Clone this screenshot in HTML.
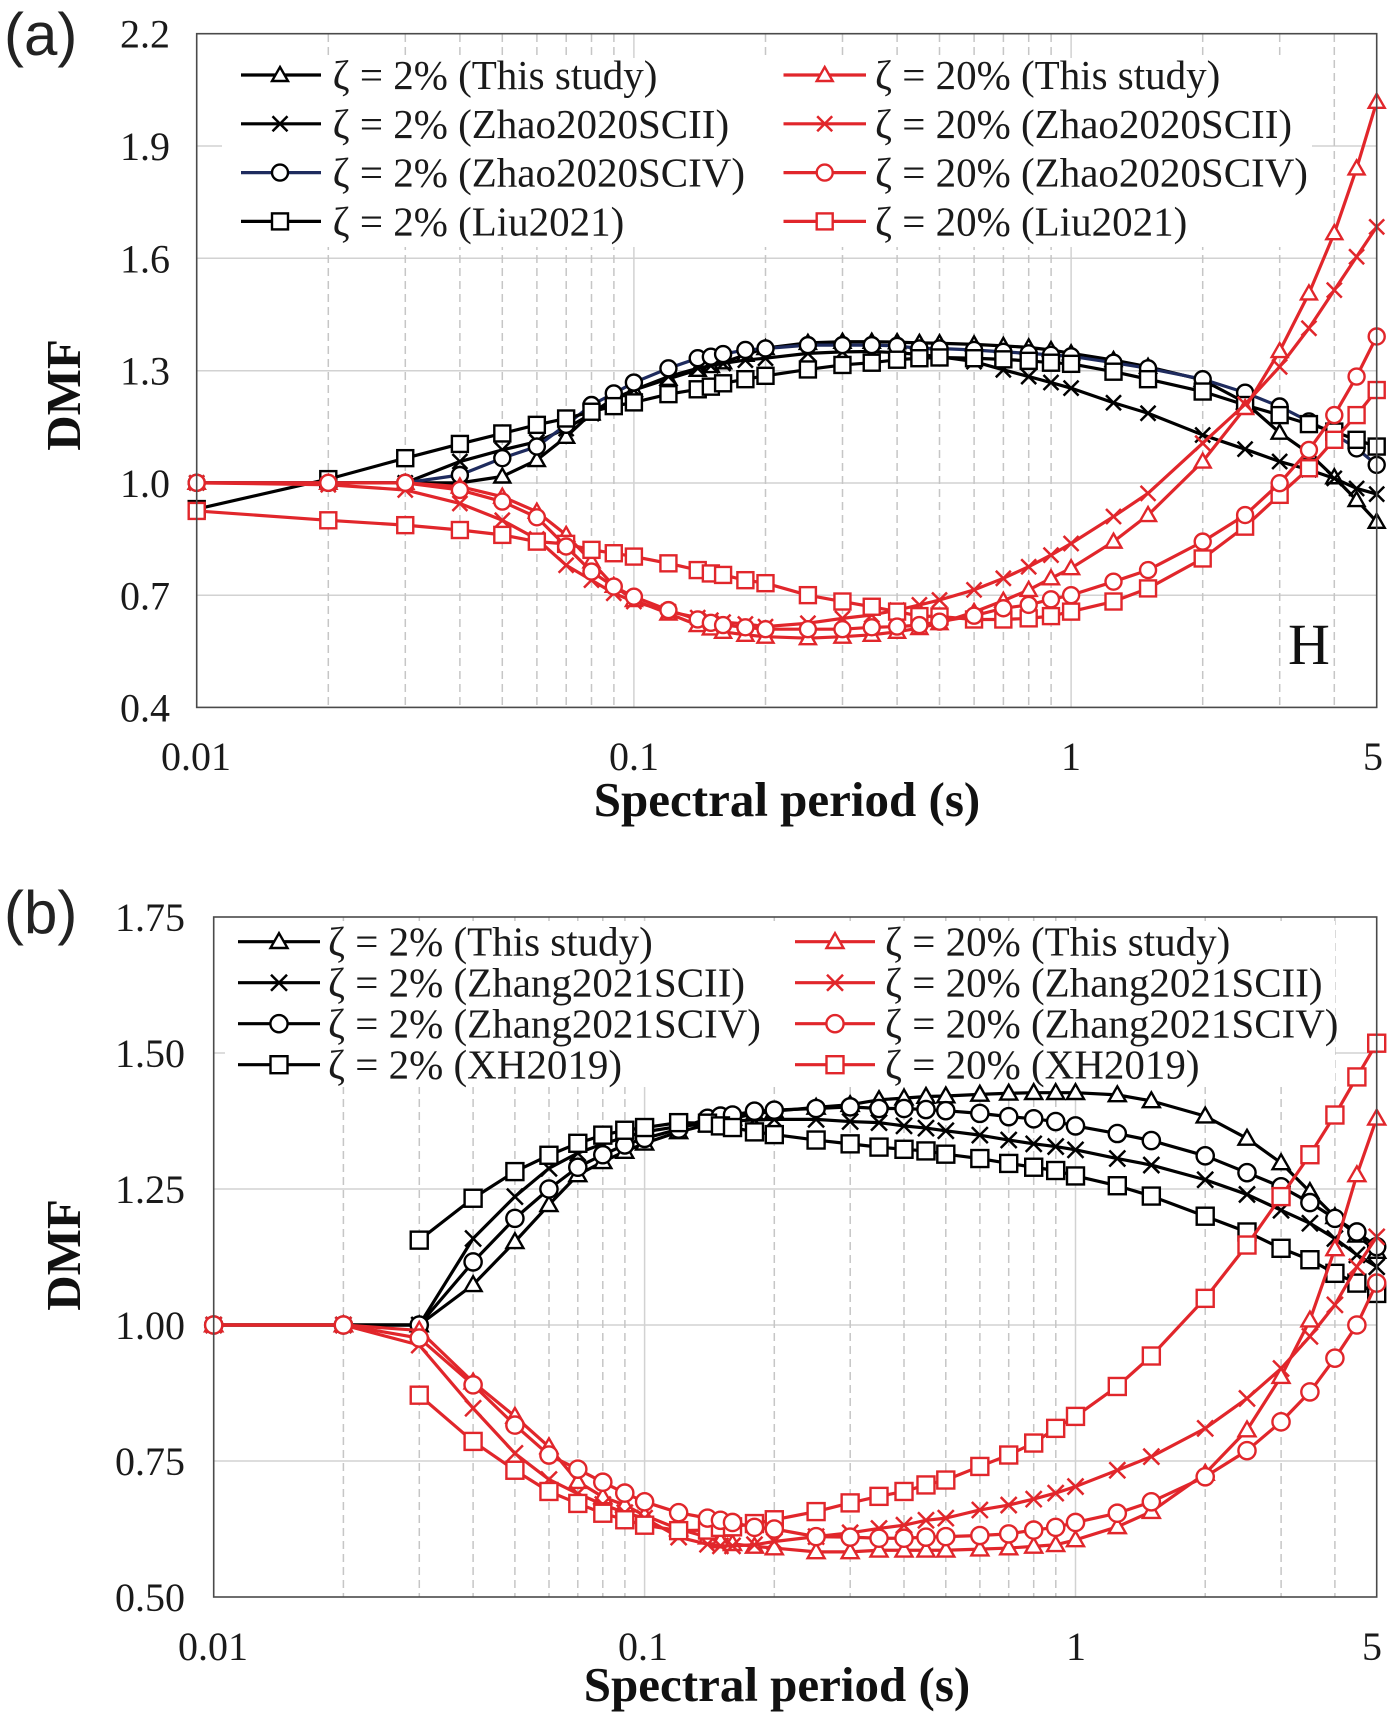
<!DOCTYPE html>
<html><head><meta charset="utf-8">
<style>
html,body{margin:0;padding:0;background:#fff;}
svg{display:block;}
.ser polyline{fill:none;stroke-width:3.2;vector-effect:non-scaling-stroke;stroke-linejoin:round;}
.tk{font-family:"Liberation Serif",serif;font-size:40px;fill:#1a1a1a;}
.lg{font-family:"Liberation Serif","DejaVu Serif",serif;font-size:41px;fill:#1a1a1a;}
.ttl{font-family:"Liberation Serif",serif;font-size:49px;font-weight:bold;fill:#111;}
.pl{font-family:"Liberation Sans",sans-serif;font-size:60px;fill:#222;}
.gh{stroke:#d2d2d2;stroke-width:1.5;}
.gv{stroke:#c6c6c6;stroke-width:1.5;stroke-dasharray:8 5;}
.gs{stroke:#d2d2d2;stroke-width:1.5;}
</style></head>
<body>
<svg width="1392" height="1718" viewBox="0 0 1392 1718" xmlns="http://www.w3.org/2000/svg">
<defs>
<marker id="aT" markerUnits="userSpaceOnUse" markerWidth="0.04575" markerHeight="0.05343" viewBox="-10 -10 20 20" refX="0" refY="0" preserveAspectRatio="none" overflow="visible"><polygon points="0,-8 8,6 -8,6" fill="#fff" stroke="#000" stroke-width="2.4"/></marker>
<marker id="aX" markerUnits="userSpaceOnUse" markerWidth="0.04575" markerHeight="0.05343" viewBox="-10 -10 20 20" refX="0" refY="0" preserveAspectRatio="none" overflow="visible"><path d="M-7.5,-7.5L7.5,7.5M-7.5,7.5L7.5,-7.5" fill="none" stroke="#000" stroke-width="2.5"/></marker>
<marker id="aC" markerUnits="userSpaceOnUse" markerWidth="0.04575" markerHeight="0.05343" viewBox="-10 -10 20 20" refX="0" refY="0" preserveAspectRatio="none" overflow="visible"><circle r="8" fill="#fff" stroke="#000" stroke-width="2.4"/></marker>
<marker id="aS" markerUnits="userSpaceOnUse" markerWidth="0.04575" markerHeight="0.05343" viewBox="-10 -10 20 20" refX="0" refY="0" preserveAspectRatio="none" overflow="visible"><rect x="-8" y="-8" width="16" height="16" fill="#fff" stroke="#000" stroke-width="2.4"/></marker>
<marker id="aTr" markerUnits="userSpaceOnUse" markerWidth="0.04575" markerHeight="0.05343" viewBox="-10 -10 20 20" refX="0" refY="0" preserveAspectRatio="none" overflow="visible"><polygon points="0,-8 8,6 -8,6" fill="#fff" stroke="#e1262b" stroke-width="2.4"/></marker>
<marker id="aXr" markerUnits="userSpaceOnUse" markerWidth="0.04575" markerHeight="0.05343" viewBox="-10 -10 20 20" refX="0" refY="0" preserveAspectRatio="none" overflow="visible"><path d="M-7.5,-7.5L7.5,7.5M-7.5,7.5L7.5,-7.5" fill="none" stroke="#e1262b" stroke-width="2.5"/></marker>
<marker id="aCr" markerUnits="userSpaceOnUse" markerWidth="0.04575" markerHeight="0.05343" viewBox="-10 -10 20 20" refX="0" refY="0" preserveAspectRatio="none" overflow="visible"><circle r="8" fill="#fff" stroke="#e1262b" stroke-width="2.4"/></marker>
<marker id="aSr" markerUnits="userSpaceOnUse" markerWidth="0.04575" markerHeight="0.05343" viewBox="-10 -10 20 20" refX="0" refY="0" preserveAspectRatio="none" overflow="visible"><rect x="-8" y="-8" width="16" height="16" fill="#fff" stroke="#e1262b" stroke-width="2.4"/></marker>
<marker id="bT" markerUnits="userSpaceOnUse" markerWidth="0.046414" markerHeight="0.036765" viewBox="-10 -10 20 20" refX="0" refY="0" preserveAspectRatio="none" overflow="visible"><polygon points="0,-8.5 8.5,6.3 -8.5,6.3" fill="#fff" stroke="#000" stroke-width="2.4"/></marker>
<marker id="bX" markerUnits="userSpaceOnUse" markerWidth="0.046414" markerHeight="0.036765" viewBox="-10 -10 20 20" refX="0" refY="0" preserveAspectRatio="none" overflow="visible"><path d="M-8,-8L8,8M-8,8L8,-8" fill="none" stroke="#000" stroke-width="2.5"/></marker>
<marker id="bC" markerUnits="userSpaceOnUse" markerWidth="0.046414" markerHeight="0.036765" viewBox="-10 -10 20 20" refX="0" refY="0" preserveAspectRatio="none" overflow="visible"><circle r="8.6" fill="#fff" stroke="#000" stroke-width="2.4"/></marker>
<marker id="bS" markerUnits="userSpaceOnUse" markerWidth="0.046414" markerHeight="0.036765" viewBox="-10 -10 20 20" refX="0" refY="0" preserveAspectRatio="none" overflow="visible"><rect x="-8.5" y="-8.5" width="17" height="17" fill="#fff" stroke="#000" stroke-width="2.4"/></marker>
<marker id="bTr" markerUnits="userSpaceOnUse" markerWidth="0.046414" markerHeight="0.036765" viewBox="-10 -10 20 20" refX="0" refY="0" preserveAspectRatio="none" overflow="visible"><polygon points="0,-8.5 8.5,6.3 -8.5,6.3" fill="#fff" stroke="#e1262b" stroke-width="2.4"/></marker>
<marker id="bXr" markerUnits="userSpaceOnUse" markerWidth="0.046414" markerHeight="0.036765" viewBox="-10 -10 20 20" refX="0" refY="0" preserveAspectRatio="none" overflow="visible"><path d="M-8,-8L8,8M-8,8L8,-8" fill="none" stroke="#e1262b" stroke-width="2.5"/></marker>
<marker id="bCr" markerUnits="userSpaceOnUse" markerWidth="0.046414" markerHeight="0.036765" viewBox="-10 -10 20 20" refX="0" refY="0" preserveAspectRatio="none" overflow="visible"><circle r="8.6" fill="#fff" stroke="#e1262b" stroke-width="2.4"/></marker>
<marker id="bSr" markerUnits="userSpaceOnUse" markerWidth="0.046414" markerHeight="0.036765" viewBox="-10 -10 20 20" refX="0" refY="0" preserveAspectRatio="none" overflow="visible"><rect x="-8.5" y="-8.5" width="17" height="17" fill="#fff" stroke="#e1262b" stroke-width="2.4"/></marker>
</defs>

<rect width="1392" height="1718" fill="#fff"/>

<!-- ================= PANEL A ================= -->
<g>
<line class="gh" x1="197" y1="146" x2="1377" y2="146"/>
<line class="gh" x1="197" y1="258.3" x2="1377" y2="258.3"/>
<line class="gh" x1="197" y1="370.7" x2="1377" y2="370.7"/>
<line class="gh" x1="197" y1="483" x2="1377" y2="483"/>
<line class="gh" x1="197" y1="595.3" x2="1377" y2="595.3"/>
<g class="gv">
<line x1="328.3" y1="34" x2="328.3" y2="707"/><line x1="405.3" y1="34" x2="405.3" y2="707"/><line x1="459.9" y1="34" x2="459.9" y2="707"/><line x1="502.3" y1="34" x2="502.3" y2="707"/><line x1="536.9" y1="34" x2="536.9" y2="707"/><line x1="566.2" y1="34" x2="566.2" y2="707"/><line x1="591.5" y1="34" x2="591.5" y2="707"/><line x1="613.9" y1="34" x2="613.9" y2="707"/>
<line x1="765.5" y1="34" x2="765.5" y2="707"/><line x1="842.5" y1="34" x2="842.5" y2="707"/><line x1="897.1" y1="34" x2="897.1" y2="707"/><line x1="939.5" y1="34" x2="939.5" y2="707"/><line x1="974.1" y1="34" x2="974.1" y2="707"/><line x1="1003.4" y1="34" x2="1003.4" y2="707"/><line x1="1028.7" y1="34" x2="1028.7" y2="707"/><line x1="1051.1" y1="34" x2="1051.1" y2="707"/>
<line x1="1202.7" y1="34" x2="1202.7" y2="707"/><line x1="1279.7" y1="34" x2="1279.7" y2="707"/><line x1="1334.3" y1="34" x2="1334.3" y2="707"/>
</g>
<line class="gs" x1="633.9" y1="34" x2="633.9" y2="707"/>
<line class="gs" x1="1071.1" y1="34" x2="1071.1" y2="707"/>
<rect x="222" y="58" width="1090" height="189" fill="#fff"/>

<g class="ser" transform="translate(196.7,857.16) scale(437.2,374.3)">
<polyline stroke="#000" marker-start="url(#aT)" marker-mid="url(#aT)" marker-end="url(#aT)" points="0,-1 .301,-1 .477,-1 .602,-1 .699,-1.017 .778,-1.061 .845,-1.123 .903,-1.186 .954,-1.225 1,-1.248 1.079,-1.278 1.146,-1.302 1.176,-1.312 1.204,-1.322 1.255,-1.342 1.301,-1.36 1.398,-1.374 1.477,-1.377 1.544,-1.377 1.602,-1.376 1.653,-1.374 1.699,-1.373 1.778,-1.37 1.845,-1.366 1.903,-1.362 1.954,-1.355 2,-1.346 2.097,-1.328 2.176,-1.31 2.301,-1.275 2.398,-1.215 2.477,-1.134 2.544,-1.079 2.602,-1.015 2.653,-.954 2.699,-.896"/>
<polyline stroke="#000" marker-start="url(#aX)" marker-mid="url(#aX)" marker-end="url(#aX)" points="0,-1 .301,-1 .477,-1 .602,-1.057 .699,-1.088 .778,-1.11 .845,-1.145 .903,-1.185 .954,-1.22 1,-1.248 1.079,-1.284 1.146,-1.306 1.176,-1.313 1.204,-1.319 1.255,-1.328 1.301,-1.333 1.398,-1.346 1.477,-1.35 1.544,-1.351 1.602,-1.348 1.653,-1.343 1.699,-1.337 1.778,-1.324 1.845,-1.302 1.903,-1.284 1.954,-1.268 2,-1.253 2.097,-1.214 2.176,-1.186 2.301,-1.128 2.398,-1.09 2.477,-1.057 2.544,-1.035 2.602,-1.012 2.653,-.985 2.699,-.97"/>
<polyline stroke="#1e2b5e" marker-start="url(#aC)" marker-mid="url(#aC)" marker-end="url(#aC)" points="0,-1 .301,-1 .477,-1 .602,-1.021 .699,-1.066 .778,-1.097 .845,-1.155 .903,-1.208 .954,-1.239 1,-1.268 1.079,-1.306 1.146,-1.333 1.176,-1.337 1.204,-1.344 1.255,-1.355 1.301,-1.359 1.398,-1.368 1.477,-1.368 1.544,-1.368 1.602,-1.366 1.653,-1.359 1.699,-1.359 1.778,-1.355 1.845,-1.35 1.903,-1.346 1.954,-1.342 2,-1.338 2.097,-1.321 2.176,-1.306 2.301,-1.277 2.398,-1.241 2.477,-1.204 2.544,-1.164 2.602,-1.13 2.653,-1.092 2.699,-1.048"/>
<polyline stroke="#000" marker-start="url(#aS)" marker-mid="url(#aS)" marker-end="url(#aS)" points="0,-.93 .301,-1.01 .477,-1.066 .602,-1.104 .699,-1.132 .778,-1.155 .845,-1.172 .903,-1.19 .954,-1.205 1,-1.215 1.079,-1.237 1.146,-1.25 1.176,-1.257 1.204,-1.266 1.255,-1.277 1.301,-1.286 1.398,-1.303 1.477,-1.315 1.544,-1.321 1.602,-1.329 1.653,-1.333 1.699,-1.335 1.778,-1.333 1.845,-1.33 1.903,-1.326 1.954,-1.321 2,-1.318 2.097,-1.297 2.176,-1.277 2.301,-1.244 2.398,-1.208 2.477,-1.181 2.544,-1.157 2.602,-1.137 2.653,-1.115 2.699,-1.097"/>

<polyline stroke="#e1262b" marker-start="url(#aTr)" marker-mid="url(#aTr)" marker-end="url(#aTr)" points="0,-1 .301,-1 .477,-1 .602,-.99 .699,-.963 .778,-.923 .845,-.861 .903,-.79 .954,-.725 1,-.687 1.079,-.651 1.146,-.62 1.176,-.611 1.204,-.602 1.255,-.594 1.301,-.589 1.398,-.585 1.477,-.589 1.544,-.594 1.602,-.602 1.653,-.612 1.699,-.625 1.778,-.655 1.845,-.685 1.903,-.714 1.954,-.745 2,-.772 2.097,-.843 2.176,-.914 2.301,-1.057 2.398,-1.2 2.477,-1.352 2.544,-1.506 2.602,-1.667 2.653,-1.84 2.699,-2.018"/>
<polyline stroke="#e1262b" marker-start="url(#aXr)" marker-mid="url(#aXr)" marker-end="url(#aXr)" points="0,-1 .301,-.995 .477,-.981 .602,-.945 .699,-.9 .778,-.85 .845,-.78 .903,-.74 .954,-.705 1,-.683 1.079,-.656 1.146,-.64 1.176,-.633 1.204,-.628 1.255,-.623 1.301,-.616 1.398,-.625 1.477,-.638 1.544,-.647 1.602,-.66 1.653,-.674 1.699,-.687 1.778,-.714 1.845,-.745 1.903,-.776 1.954,-.807 2,-.838 2.097,-.91 2.176,-.972 2.301,-1.106 2.398,-1.21 2.477,-1.31 2.544,-1.413 2.602,-1.515 2.653,-1.604 2.699,-1.684"/>
<polyline stroke="#e1262b" marker-start="url(#aSr)" marker-mid="url(#aSr)" marker-end="url(#aSr)" points="0,-.925 .301,-.9 .477,-.887 .602,-.874 .699,-.861 .778,-.843 .845,-.837 .903,-.821 .954,-.812 1,-.803 1.079,-.785 1.146,-.767 1.176,-.758 1.204,-.754 1.255,-.74 1.301,-.732 1.398,-.7 1.477,-.683 1.544,-.669 1.602,-.656 1.653,-.644 1.699,-.643 1.778,-.635 1.845,-.635 1.903,-.638 1.954,-.644 2,-.656 2.097,-.683 2.176,-.718 2.301,-.798 2.398,-.883 2.477,-.968 2.544,-1.039 2.602,-1.115 2.653,-1.181 2.699,-1.248"/>
<polyline stroke="#e1262b" marker-start="url(#aCr)" marker-mid="url(#aCr)" marker-end="url(#aCr)" points="0,-1 .301,-1 .477,-1 .602,-.981 .699,-.95 .778,-.908 .845,-.83 .903,-.763 .954,-.723 1,-.696 1.079,-.66 1.146,-.635 1.176,-.626 1.204,-.62 1.255,-.614 1.301,-.609 1.398,-.609 1.477,-.609 1.544,-.614 1.602,-.616 1.653,-.62 1.699,-.629 1.778,-.645 1.845,-.665 1.903,-.674 1.954,-.689 2,-.7 2.097,-.736 2.176,-.767 2.301,-.843 2.398,-.914 2.477,-.999 2.544,-1.088 2.602,-1.181 2.653,-1.284 2.699,-1.391"/>
</g>

<rect x="196.7" y="33.7" width="1180" height="673.7" fill="none" stroke="#4a4a4a" stroke-width="1.6"/>

<g stroke-width="3.2">
<line x1="241" y1="75" x2="321" y2="75" stroke="#000"/>
<polygon points="280,67 288,81 272,81" fill="#fff" stroke="#000" stroke-width="2.4"/>
<line x1="241" y1="123.8" x2="321" y2="123.8" stroke="#000"/>
<path d="M272.5,116.3L287.5,131.3M272.5,131.3L287.5,116.3" stroke="#000" stroke-width="2.5"/>
<line x1="241" y1="172.6" x2="321" y2="172.6" stroke="#1e2b5e"/>
<circle cx="280" cy="172.6" r="8" fill="#fff" stroke="#000" stroke-width="2.4"/>
<line x1="241" y1="221.4" x2="321" y2="221.4" stroke="#000"/>
<rect x="272" y="213.4" width="16" height="16" fill="#fff" stroke="#000" stroke-width="2.4"/>

<line x1="783.5" y1="75" x2="866" y2="75" stroke="#e1262b"/>
<polygon points="824.7,67 832.7,81 816.7,81" fill="#fff" stroke="#e1262b" stroke-width="2.4"/>
<line x1="783.5" y1="123.8" x2="866" y2="123.8" stroke="#e1262b"/>
<path d="M817.2,116.3L832.2,131.3M817.2,131.3L832.2,116.3" stroke="#e1262b" stroke-width="2.5"/>
<line x1="783.5" y1="172.6" x2="866" y2="172.6" stroke="#e1262b"/>
<circle cx="824.7" cy="172.6" r="8" fill="#fff" stroke="#e1262b" stroke-width="2.4"/>
<line x1="783.5" y1="221.4" x2="866" y2="221.4" stroke="#e1262b"/>
<rect x="816.7" y="213.4" width="16" height="16" fill="#fff" stroke="#e1262b" stroke-width="2.4"/>
</g>
<text class="lg" x="332.6" y="89">ζ = 2% (This study)</text>
<text class="lg" x="332.6" y="137.8">ζ = 2% (Zhao2020SCII)</text>
<text class="lg" x="332.6" y="186.6">ζ = 2% (Zhao2020SCIV)</text>
<text class="lg" x="332.6" y="235.4">ζ = 2% (Liu2021)</text>
<text class="lg" x="875" y="89">ζ = 20% (This study)</text>
<text class="lg" x="875" y="137.8">ζ = 20% (Zhao2020SCII)</text>
<text class="lg" x="875" y="186.6">ζ = 20% (Zhao2020SCIV)</text>
<text class="lg" x="875" y="235.4">ζ = 20% (Liu2021)</text>

<text x="1288" y="664" style="font-family:'Liberation Serif',serif;font-size:58px;fill:#111;">H</text>

<g class="tk" text-anchor="end">
<text x="170" y="47.7">2.2</text>
<text x="170" y="160">1.9</text>
<text x="170" y="272.3">1.6</text>
<text x="170" y="384.7">1.3</text>
<text x="170" y="497">1.0</text>
<text x="170" y="609.3">0.7</text>
<text x="170" y="721.7">0.4</text>
</g>
<g class="tk" text-anchor="middle">
<text x="196" y="770">0.01</text>
<text x="634" y="770">0.1</text>
<text x="1071" y="770">1</text>
<text x="1373" y="770">5</text>
</g>
<text class="ttl" x="787" y="816" text-anchor="middle">Spectral period (s)</text>
<text class="ttl" x="80" y="395" text-anchor="middle" transform="rotate(-90 80 395)">DMF</text>
<text class="pl" x="4" y="55">(a)</text>
</g>

<!-- ================= PANEL B ================= -->
<g>
<line class="gh" x1="214" y1="1053" x2="1377" y2="1053"/>
<line class="gh" x1="214" y1="1189" x2="1377" y2="1189"/>
<line class="gh" x1="214" y1="1325" x2="1377" y2="1325"/>
<line class="gh" x1="214" y1="1461" x2="1377" y2="1461"/>
<g class="gv">
<line x1="343.4" y1="917" x2="343.4" y2="1597"/><line x1="419.3" y1="917" x2="419.3" y2="1597"/><line x1="473.1" y1="917" x2="473.1" y2="1597"/><line x1="514.9" y1="917" x2="514.9" y2="1597"/><line x1="549" y1="917" x2="549" y2="1597"/><line x1="577.8" y1="917" x2="577.8" y2="1597"/><line x1="602.8" y1="917" x2="602.8" y2="1597"/><line x1="624.9" y1="917" x2="624.9" y2="1597"/>
<line x1="774.3" y1="917" x2="774.3" y2="1597"/><line x1="850.2" y1="917" x2="850.2" y2="1597"/><line x1="904" y1="917" x2="904" y2="1597"/><line x1="945.8" y1="917" x2="945.8" y2="1597"/><line x1="979.9" y1="917" x2="979.9" y2="1597"/><line x1="1008.7" y1="917" x2="1008.7" y2="1597"/><line x1="1033.7" y1="917" x2="1033.7" y2="1597"/><line x1="1055.8" y1="917" x2="1055.8" y2="1597"/>
<line x1="1205.2" y1="917" x2="1205.2" y2="1597"/><line x1="1281.1" y1="917" x2="1281.1" y2="1597"/><line x1="1334.9" y1="917" x2="1334.9" y2="1597"/>
</g>
<line class="gs" x1="644.6" y1="917" x2="644.6" y2="1597"/>
<line class="gs" x1="1075.5" y1="917" x2="1075.5" y2="1597"/>
<rect x="225" y="921" width="1110" height="166" fill="#fff"/>

<g class="ser" transform="translate(213.7,1869) scale(430.9,544)">
<polyline stroke="#000" marker-start="url(#bT)" marker-mid="url(#bT)" marker-end="url(#bT)" points="0,-1 .301,-1 .477,-1 .602,-1.074 .699,-1.153 .778,-1.221 .845,-1.276 .903,-1.3 .954,-1.319 1,-1.334 1.079,-1.355 1.146,-1.368 1.176,-1.375 1.204,-1.38 1.255,-1.388 1.301,-1.393 1.398,-1.4 1.477,-1.405 1.544,-1.414 1.602,-1.417 1.653,-1.42 1.699,-1.421 1.778,-1.424 1.845,-1.426 1.903,-1.427 1.954,-1.427 2,-1.427 2.097,-1.423 2.176,-1.412 2.301,-1.384 2.398,-1.343 2.477,-1.298 2.544,-1.245 2.602,-1.199 2.653,-1.165 2.699,-1.135"/>
<polyline stroke="#000" marker-start="url(#bX)" marker-mid="url(#bX)" marker-end="url(#bX)" points="0,-1 .301,-1 .477,-1 .602,-1.159 .699,-1.236 .778,-1.288 .845,-1.316 .903,-1.333 .954,-1.345 1,-1.355 1.079,-1.365 1.146,-1.37 1.176,-1.372 1.204,-1.375 1.255,-1.377 1.301,-1.378 1.398,-1.378 1.477,-1.374 1.544,-1.372 1.602,-1.366 1.653,-1.362 1.699,-1.357 1.778,-1.349 1.845,-1.34 1.903,-1.333 1.954,-1.328 2,-1.322 2.097,-1.306 2.176,-1.294 2.301,-1.267 2.398,-1.24 2.477,-1.211 2.544,-1.187 2.602,-1.159 2.653,-1.129 2.699,-1.107"/>
<polyline stroke="#000" marker-start="url(#bC)" marker-mid="url(#bC)" marker-end="url(#bC)" points="0,-1 .301,-1 .477,-1 .602,-1.116 .699,-1.196 .778,-1.25 .845,-1.29 .903,-1.313 .954,-1.331 1,-1.343 1.079,-1.36 1.146,-1.38 1.176,-1.384 1.204,-1.386 1.255,-1.393 1.301,-1.395 1.398,-1.398 1.477,-1.401 1.544,-1.398 1.602,-1.398 1.653,-1.396 1.699,-1.394 1.778,-1.389 1.845,-1.383 1.903,-1.379 1.954,-1.374 2,-1.366 2.097,-1.352 2.176,-1.339 2.301,-1.311 2.398,-1.28 2.477,-1.254 2.544,-1.225 2.602,-1.196 2.653,-1.171 2.699,-1.144"/>
<polyline stroke="#000" marker-start="url(#bS)" marker-mid="url(#bS)" marker-end="url(#bS)" points=".477,-1.156 .602,-1.233 .699,-1.282 .778,-1.312 .845,-1.334 .903,-1.349 .954,-1.358 1,-1.363 1.079,-1.372 1.146,-1.371 1.176,-1.366 1.204,-1.363 1.255,-1.355 1.301,-1.35 1.398,-1.34 1.477,-1.333 1.544,-1.327 1.602,-1.323 1.653,-1.32 1.699,-1.314 1.778,-1.306 1.845,-1.297 1.903,-1.29 1.954,-1.284 2,-1.274 2.097,-1.256 2.176,-1.237 2.301,-1.2 2.398,-1.171 2.477,-1.141 2.544,-1.12 2.602,-1.095 2.653,-1.077 2.699,-1.058"/>

<polyline stroke="#e1262b" marker-start="url(#bTr)" marker-mid="url(#bTr)" marker-end="url(#bTr)" points="0,-1 .301,-1 .477,-.99 .602,-.895 .699,-.832 .778,-.776 .845,-.712 .903,-.684 .954,-.669 1,-.65 1.079,-.625 1.146,-.61 1.176,-.603 1.204,-.598 1.255,-.593 1.301,-.59 1.398,-.583 1.477,-.583 1.544,-.586 1.602,-.586 1.653,-.586 1.699,-.586 1.778,-.588 1.845,-.59 1.903,-.593 1.954,-.596 2,-.605 2.097,-.629 2.176,-.657 2.301,-.727 2.398,-.807 2.477,-.905 2.544,-1.009 2.602,-1.14 2.653,-1.276 2.699,-1.38"/>
<polyline stroke="#e1262b" marker-start="url(#bXr)" marker-mid="url(#bXr)" marker-end="url(#bXr)" points="0,-1 .301,-1 .477,-.963 .602,-.847 .699,-.764 .778,-.716 .845,-.69 .903,-.67 .954,-.655 1,-.645 1.079,-.61 1.146,-.597 1.176,-.594 1.204,-.594 1.255,-.596 1.301,-.602 1.398,-.611 1.477,-.618 1.544,-.626 1.602,-.632 1.653,-.641 1.699,-.645 1.778,-.66 1.845,-.669 1.903,-.68 1.954,-.691 2,-.703 2.097,-.733 2.176,-.758 2.301,-.81 2.398,-.865 2.477,-.92 2.544,-.979 2.602,-1.037 2.653,-1.107 2.699,-1.162"/>
<polyline stroke="#e1262b" marker-start="url(#bSr)" marker-mid="url(#bSr)" marker-end="url(#bSr)" points=".477,-.871 .602,-.786 .699,-.733 .778,-.694 .845,-.672 .903,-.654 .954,-.642 1,-.632 1.079,-.622 1.146,-.623 1.176,-.628 1.204,-.629 1.255,-.635 1.301,-.642 1.398,-.657 1.477,-.673 1.544,-.685 1.602,-.694 1.653,-.706 1.699,-.715 1.778,-.74 1.845,-.761 1.903,-.783 1.954,-.81 2,-.832 2.097,-.887 2.176,-.943 2.301,-1.049 2.398,-1.147 2.477,-1.236 2.544,-1.313 2.602,-1.386 2.653,-1.456 2.699,-1.518"/>
<polyline stroke="#e1262b" marker-start="url(#bCr)" marker-mid="url(#bCr)" marker-end="url(#bCr)" points="0,-1 .301,-1 .477,-.976 .602,-.89 .699,-.816 .778,-.761 .845,-.735 .903,-.711 .954,-.691 1,-.675 1.079,-.655 1.146,-.645 1.176,-.641 1.204,-.637 1.255,-.628 1.301,-.625 1.398,-.611 1.477,-.61 1.544,-.608 1.602,-.608 1.653,-.61 1.699,-.611 1.778,-.613 1.845,-.616 1.903,-.623 1.954,-.628 2,-.637 2.097,-.654 2.176,-.675 2.301,-.721 2.398,-.769 2.477,-.822 2.544,-.877 2.602,-.939 2.653,-1 2.699,-1.077"/>
</g>

<rect x="213.7" y="917" width="1163" height="680" fill="none" stroke="#4a4a4a" stroke-width="1.6"/>

<g stroke-width="3.2">
<line x1="238" y1="941.7" x2="320" y2="941.7" stroke="#000"/>
<polygon points="279,933.2 287.5,948 270.5,948" fill="#fff" stroke="#000" stroke-width="2.4"/>
<line x1="238" y1="982.7" x2="320" y2="982.7" stroke="#000"/>
<path d="M271,974.7L287,990.7M271,990.7L287,974.7" stroke="#000" stroke-width="2.5"/>
<line x1="238" y1="1023.7" x2="320" y2="1023.7" stroke="#000"/>
<circle cx="279" cy="1023.7" r="8.6" fill="#fff" stroke="#000" stroke-width="2.4"/>
<line x1="238" y1="1064.7" x2="320" y2="1064.7" stroke="#000"/>
<rect x="270.5" y="1056.2" width="17" height="17" fill="#fff" stroke="#000" stroke-width="2.4"/>

<line x1="795" y1="941.7" x2="875" y2="941.7" stroke="#e1262b"/>
<polygon points="835,933.2 843.5,948 826.5,948" fill="#fff" stroke="#e1262b" stroke-width="2.4"/>
<line x1="795" y1="982.7" x2="875" y2="982.7" stroke="#e1262b"/>
<path d="M827,974.7L843,990.7M827,990.7L843,974.7" stroke="#e1262b" stroke-width="2.5"/>
<line x1="795" y1="1023.7" x2="875" y2="1023.7" stroke="#e1262b"/>
<circle cx="835" cy="1023.7" r="8.6" fill="#fff" stroke="#e1262b" stroke-width="2.4"/>
<line x1="795" y1="1064.7" x2="875" y2="1064.7" stroke="#e1262b"/>
<rect x="826.5" y="1056.2" width="17" height="17" fill="#fff" stroke="#e1262b" stroke-width="2.4"/>
</g>
<text class="lg" x="328" y="955.7">ζ = 2% (This study)</text>
<text class="lg" x="328" y="996.7">ζ = 2% (Zhang2021SCII)</text>
<text class="lg" x="328" y="1037.7">ζ = 2% (Zhang2021SCIV)</text>
<text class="lg" x="328" y="1078.7">ζ = 2% (XH2019)</text>
<text class="lg" x="885" y="955.7">ζ = 20% (This study)</text>
<text class="lg" x="885" y="996.7">ζ = 20% (Zhang2021SCII)</text>
<text class="lg" x="885" y="1037.7">ζ = 20% (Zhang2021SCIV)</text>
<text class="lg" x="885" y="1078.7">ζ = 20% (XH2019)</text>

<g class="tk" text-anchor="end">
<text x="185" y="931">1.75</text>
<text x="185" y="1067">1.50</text>
<text x="185" y="1203">1.25</text>
<text x="185" y="1339">1.00</text>
<text x="185" y="1475">0.75</text>
<text x="185" y="1611">0.50</text>
</g>
<g class="tk" text-anchor="middle">
<text x="213" y="1660">0.01</text>
<text x="643" y="1660">0.1</text>
<text x="1076" y="1660">1</text>
<text x="1372" y="1660">5</text>
</g>
<text class="ttl" x="777" y="1701" text-anchor="middle">Spectral period (s)</text>
<text class="ttl" x="80" y="1255" text-anchor="middle" transform="rotate(-90 80 1255)">DMF</text>
<text class="pl" x="4" y="933">(b)</text>
</g>
</svg>
</body></html>
